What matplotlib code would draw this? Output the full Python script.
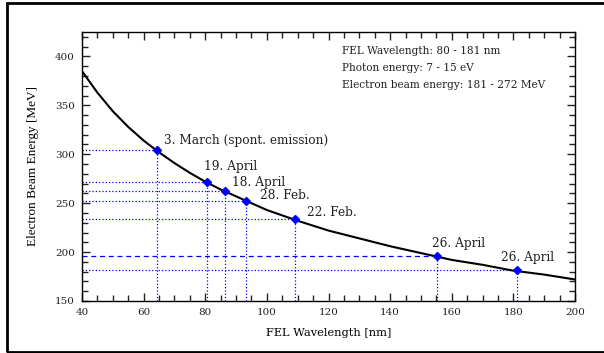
import matplotlib
matplotlib.use("Agg")
import matplotlib.pyplot as plt
from matplotlib.patches import Rectangle
from matplotlib.ticker import MultipleLocator

# Theory curve (wavelength nm -> beam energy MeV)
curve_wl = [40, 45, 50, 55, 60, 65, 70, 75, 80, 85, 90, 95, 100, 110, 120, 130, 140,
            150, 160, 170, 180, 190, 200]
curve_E = [385, 363, 344, 328, 314, 302, 291, 281, 272, 264, 257, 250, 243, 232, 222,
           214, 206, 199, 192, 187, 181, 177, 172]

# Measured points
pt_wl = [64.2, 80.5, 86.5, 93.1, 109.2, 155.1, 181.1]
pt_E = [304.5, 271.5, 262, 252.5, 233.5, 196, 181.5]
pt_labels = ["3. March (spont. emission)", "19. April", "18. April", "28. Feb.",
             "22. Feb.", "26. April", "26. April"]
info_lines = ["FEL Wavelength: 80 - 181 nm", "Photon energy: 7 - 15 eV",
              "Electron beam energy: 181 - 272 MeV"]

label_offsets = [(7, 9), (-3, 16), (7, 9), (14, 5), (12, 7), (-5, 13), (-16, 13)]
hline_styles = [":", ":", ":", ":", ":", (0, (4, 3)), ":"]

SERIF = ["DejaVu Serif"]
YSERIF = ["Liberation Serif", "DejaVu Serif"]
blue = "#0000ff"

fig = plt.figure(figsize=(6.04, 3.53), dpi=100)
fig.patches.append(Rectangle((7 / 604, 1 / 353), 1.1, 349 / 353,
                             transform=fig.transFigure, fill=False,
                             edgecolor="black", linewidth=2.0))
ax = fig.add_axes([82 / 604, 1 - 301 / 353, (575 - 82) / 604, (301 - 32) / 353])

xmin, xmax, ymin, ymax = 40, 200, 150, 425
ax.set_xlim(xmin, xmax)
ax.set_ylim(ymin, ymax)

for x, y, ls in zip(pt_wl, pt_E, hline_styles):
    ax.plot([x, x], [ymin, y], color=blue, lw=0.9, ls=":", zorder=1)
    ax.plot([xmin, x], [y, y], color=blue, lw=0.9, ls=ls, zorder=1)

ax.plot(curve_wl, curve_E, color="black", lw=1.5, zorder=2)
ax.plot(pt_wl, pt_E, ls="none", marker="D", ms=4.5, color=blue, zorder=3)

for x, y, lab, off in zip(pt_wl, pt_E, pt_labels, label_offsets):
    ax.annotate(lab, (x, y), xytext=off, textcoords="offset pixels",
                ha="left", va="center", fontsize=8.7, family=SERIF, color="#222222")

for i, line in enumerate(info_lines):
    fig.text(342 / 604, 1 - (51 + 17 * i) / 353, line, fontsize=7.6, family=SERIF,
             ha="left", va="center", color="#222222")

ax.xaxis.set_major_locator(MultipleLocator(20))
ax.xaxis.set_minor_locator(MultipleLocator(5))
ax.yaxis.set_minor_locator(MultipleLocator(10))
ax.set_yticks([150, 200, 250, 300, 350, 400])
ax.tick_params(which="both", direction="in", top=True, right=True, labelsize=7.5,
               colors="#222222")
ax.tick_params(which="major", length=6, width=1)
ax.tick_params(which="minor", length=4, width=1)
for lab in ax.get_xticklabels() + ax.get_yticklabels():
    lab.set_family(SERIF)
ax.tick_params(axis="x", pad=5)
ax.tick_params(axis="y", pad=5)

ax.set_xlabel("FEL Wavelength [nm]", fontsize=8.2, family=SERIF, labelpad=8)
ax.set_ylabel("Electron Beam Energy [MeV]", fontsize=9.5, family=YSERIF, labelpad=12)
for s in ax.spines.values():
    s.set_linewidth(1.0)

fig.savefig("out.png", dpi=100)
